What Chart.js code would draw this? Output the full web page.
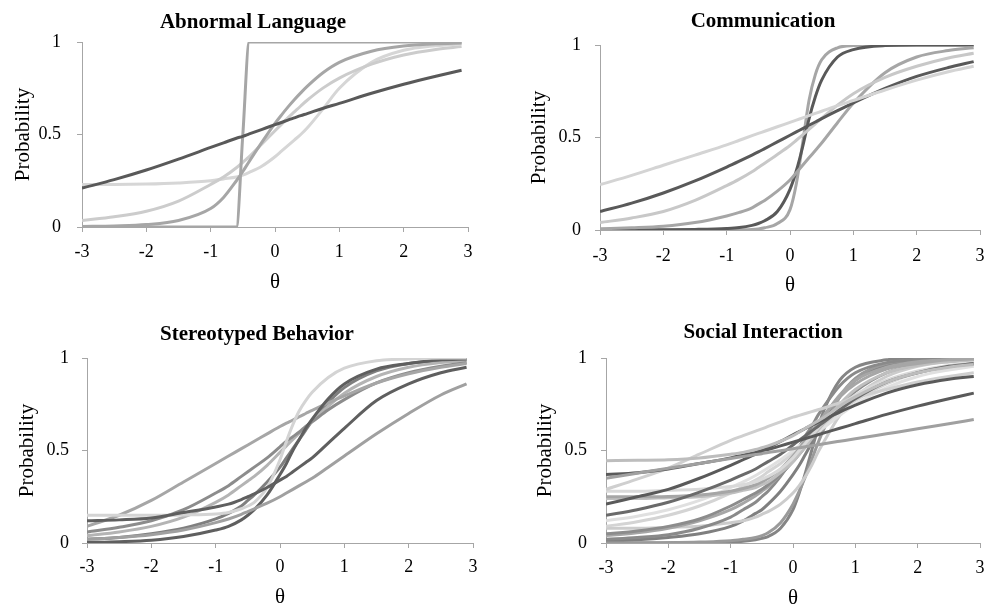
<!DOCTYPE html>
<html>
<head>
<meta charset="utf-8">
<script src="https://cdn.jsdelivr.net/npm/chart.js@4.4.1/dist/chart.umd.min.js"></script>
<style>
  body { margin: 0; background: #fff; width: 995px; height: 609px; position: relative; overflow: hidden; }
  canvas { position: absolute; }
</style>
</head>
<body>
<canvas id="abnormal" width="506" height="300" style="left:0;top:0"></canvas>
<canvas id="communication" width="464" height="300" style="left:531px;top:0"></canvas>
<canvas id="stereotyped" width="514" height="309" style="left:0;top:300px"></canvas>
<canvas id="social" width="464" height="309" style="left:531px;top:300px"></canvas>
<script>
// theta grid the curves were read at
const theta = [-3, -2.5, -2, -1.5, -1, -0.8, -0.6, -0.5, -0.4, -0.2, 0, 0.1, 0.2, 0.3, 0.4, 0.5, 0.75, 1, 1.5, 2, 2.5, 2.9];

const xTicks = [-3, -2, -1, 0, 1, 2, 3];
const xTickLabels = ['-3', '-2', '-1', '0', '1', '2', '3'];
const yTicks = [0, 0.5, 1];
const yTickLabels = ['0', '0.5', '1'];

// Abnormal Language
const abnormalItems = [
  [.21, .256, .308, .367, .43, .455, .48, .49, .503, .528, .553, .565, .578, .59, .602, .613, .642, .668, .723, .772, .815, .847],
  [0, 0, 0, 0, 0, 0, 0, .5, 1, 1, 1, 1, 1, 1, 1, 1, 1, 1, 1, 1, 1, 1],
  [.003, .006, .013, .035, .10, .16, .25, .30, .355, .46, .56, .605, .648, .688, .725, .76, .835, .89, .95, .978, .99, .995],
  [.035, .055, .085, .14, .23, .27, .32, .35, .38, .45, .52, .555, .59, .622, .654, .685, .752, .805, .88, .93, .96, .975],
  [.23, .23, .232, .238, .25, .26, .27, .28, .295, .33, .38, .41, .44, .47, .50, .535, .64, .75, .89, .955, .98, .99]
];
const abnormalColors = ['#595959', '#a6a6a6', '#a6a6a6', '#cccccc', '#d6d6d6'];

// Communication
const communicationItems = [
  [.245, .295, .35, .405, .46, .485, .51, .522, .534, .558, .582, .594, .606, .618, .63, .642, .672, .70, .757, .81, .855, .885],
  [.10, .145, .20, .265, .34, .372, .405, .422, .44, .476, .512, .53, .548, .566, .584, .602, .645, .687, .765, .83, .878, .91],
  [.04, .065, .10, .16, .24, .275, .315, .338, .361, .408, .457, .485, .514, .544, .574, .604, .675, .737, .825, .885, .93, .955],
  [.007, .012, .02, .04, .076, .095, .12, .14, .16, .21, .27, .31, .35, .39, .43, .47, .58, .685, .85, .935, .97, .985],
  [0, 0, .001, .003, .008, .013, .025, .035, .05, .10, .22, .32, .45, .60, .72, .81, .935, .975, .997, 1, 1, 1],
  [0, 0, 0, 0, 0, .001, .003, .006, .012, .035, .11, .25, .47, .70, .84, .92, .985, .997, 1, 1, 1, 1]
];
const communicationColors = ['#d4d4d4', '#595959', '#c8c8c8', '#a6a6a6', '#595959', '#a6a6a6'];

// Stereotyped Behavior
const stereotypedItems = [
  [.02, .03, .045, .07, .11, .13, .155, .17, .185, .215, .25, .27, .29, .31, .33, .35, .41, .47, .59, .70, .80, .86],
  [.12, .125, .135, .165, .195, .21, .235, .25, .265, .30, .34, .36, .385, .41, .435, .46, .54, .62, .77, .86, .92, .95],
  [.15, .15, .15, .152, .157, .165, .185, .20, .22, .30, .45, .55, .64, .715, .77, .815, .895, .945, .985, .995, 1, 1],
  [.003, .007, .015, .035, .07, .09, .125, .15, .18, .26, .37, .43, .50, .56, .62, .67, .78, .86, .94, .97, .99, .995],
  [.09, .15, .23, .33, .43, .47, .51, .53, .55, .59, .63, .648, .665, .683, .70, .717, .757, .795, .865, .915, .95, .97],
  [.06, .085, .12, .18, .27, .31, .36, .385, .41, .46, .52, .55, .575, .60, .63, .655, .72, .775, .865, .92, .955, .975],
  [.04, .06, .09, .14, .22, .26, .31, .335, .36, .42, .49, .525, .56, .594, .627, .66, .74, .81, .90, .95, .975, .985],
  [.02, .03, .05, .08, .13, .16, .20, .23, .26, .33, .41, .46, .51, .56, .61, .66, .76, .84, .93, .97, .985, .99]
];
const stereotypedColors = ['#a0a0a0', '#5f5f5f', '#d4d4d4', '#5f5f5f', '#a6a6a6', '#8c8c8c', '#b4b4b4', '#7f7f7f'];

// Social Interaction
const socialItems = [
  [.35, .377, .404, .43, .457, .467, .478, .483, .489, .499, .51, .515, .52, .526, .531, .537, .55, .563, .59, .617, .645, .667],
  [.445, .447, .45, .46, .48, .49, .505, .515, .525, .55, .58, .60, .62, .64, .66, .68, .74, .79, .87, .92, .95, .965],
  [.37, .38, .40, .43, .46, .475, .49, .50, .505, .525, .545, .555, .565, .575, .585, .595, .62, .645, .695, .74, .78, .81],
  [.21, .25, .29, .35, .42, .45, .48, .497, .514, .549, .585, .602, .619, .636, .652, .668, .708, .745, .81, .855, .885, .90],
  [.15, .18, .22, .275, .34, .37, .40, .42, .44, .48, .53, .555, .58, .605, .63, .655, .72, .78, .87, .92, .955, .97],
  [.29, .345, .405, .48, .555, .58, .605, .617, .63, .655, .68, .69, .70, .71, .72, .73, .758, .785, .83, .87, .90, .92],
  [.28, .28, .285, .29, .305, .315, .33, .345, .36, .40, .46, .50, .54, .58, .62, .66, .74, .80, .88, .93, .96, .975],
  [.25, .25, .252, .26, .28, .295, .315, .33, .35, .40, .47, .51, .56, .60, .645, .69, .79, .86, .94, .97, .99, .995],
  [.24, .24, .245, .25, .27, .285, .30, .315, .33, .38, .44, .48, .52, .565, .61, .65, .75, .83, .92, .96, .98, .99],
  [.12, .145, .18, .23, .30, .33, .365, .385, .405, .45, .50, .525, .55, .575, .60, .625, .69, .75, .84, .90, .935, .955],
  [.09, .115, .15, .20, .27, .305, .34, .36, .385, .43, .49, .52, .55, .58, .61, .64, .71, .77, .86, .92, .95, .965],
  [.05, .065, .09, .13, .20, .235, .27, .29, .315, .37, .44, .48, .52, .56, .60, .64, .74, .82, .92, .965, .985, .99],
  [.04, .055, .08, .12, .18, .215, .255, .28, .305, .37, .45, .50, .55, .60, .645, .69, .80, .88, .95, .98, .99, .997],
  [.02, .03, .045, .08, .14, .18, .22, .25, .28, .36, .46, .52, .58, .63, .69, .74, .85, .92, .975, .99, 1, 1],
  [.08, .08, .085, .09, .11, .12, .14, .155, .17, .21, .27, .31, .36, .42, .49, .55, .69, .79, .90, .955, .98, .99],
  [0, .001, .002, .005, .012, .02, .03, .04, .055, .11, .21, .28, .36, .45, .54, .62, .79, .89, .97, .99, 1, 1],
  [0, 0, .001, .002, .006, .01, .018, .025, .035, .08, .18, .27, .38, .50, .62, .72, .88, .95, .99, 1, 1, 1],
  [.01, .017, .03, .05, .09, .12, .16, .18, .21, .28, .37, .42, .48, .54, .60, .66, .79, .88, .96, .985, .995, 1]
];
const socialColors = ['#a0a0a0', '#bdbdbd', '#5a5a5a', '#5a5a5a', '#6a6a6a', '#cfcfcf', '#d9d9d9', '#a6a6a6', '#bfbfbf',
  '#e0e0e0', '#d4d4d4', '#8c8c8c', '#a6a6a6', '#8a8a8a', '#cccccc', '#9a9a9a', '#858585', '#7f7f7f'];

Chart.defaults.font.family = '"Liberation Serif", "Times New Roman", serif';
Chart.defaults.color = '#000';

const axisColor = '#a6a6a6';

function drawPanel(id, title, items, colors, p) {
  new Chart(document.getElementById(id), {
    type: 'line',
    data: {
      datasets: items.map((row, i) => ({
        data: row.map((v, j) => ({ x: theta[j], y: v })),
        borderColor: colors[i],
        xAxisID: 'x',
        yAxisID: 'y'
      }))
    },
    options: {
      responsive: false,
      animation: false,
      devicePixelRatio: 1,
      layout: { padding: 0 },
      elements: {
        point: { radius: 0 },
        line: { borderWidth: 3, cubicInterpolationMode: 'monotone', fill: false }
      },
      plugins: {
        legend: { display: false },
        tooltip: { enabled: false },
        title: {
          display: true,
          text: title,
          color: '#000',
          font: { size: 21, weight: 'bold', lineHeight: 1 },
          padding: { top: p.titleTop, bottom: p.titleBottom }
        }
      },
      scales: {
        x: {
          type: 'linear',
          position: 'bottom',
          min: -3, max: 3,
          afterBuildTicks: s => { s.ticks = xTicks.map(v => ({ value: v })); },
          afterFit: s => { s.height = p.xAxisHeight; },
          grid: { display: true, drawOnChartArea: false, drawTicks: true, tickLength: 5, color: axisColor },
          border: { display: true, color: axisColor },
          ticks: {
            padding: p.xTickPad,
            maxRotation: 0,
            font: { size: 18 },
            callback: v => xTickLabels[xTicks.indexOf(v)]
          },
          title: {
            display: true,
            text: 'θ',
            font: { size: 21, lineHeight: 1 },
            padding: { top: 0, bottom: p.xTitlePad }
          }
        },
        y: {
          type: 'linear',
          position: 'left',
          min: 0, max: 1,
          afterBuildTicks: s => { s.ticks = yTicks.map(v => ({ value: v })); },
          afterFit: s => { s.width = p.yAxisWidth; },
          grid: { display: true, drawOnChartArea: false, drawTicks: true, tickLength: 5, color: axisColor },
          border: { display: true, color: axisColor },
          ticks: {
            padding: p.yTickPad,
            font: { size: 18 },
            callback: v => yTickLabels[yTicks.indexOf(v)]
          },
          title: {
            display: true,
            text: 'Probability',
            font: { size: 21, lineHeight: 1 },
            padding: { top: p.yTitlePad, bottom: 0 }
          }
        },
        // empty right-hand band so the title stays centred on the whole panel
        pad: {
          type: 'linear',
          position: 'right',
          display: true,
          grid: { display: false },
          border: { display: false },
          ticks: { display: false },
          afterFit: s => { s.width = p.rightPad; }
        }
      }
    }
  });
}

drawPanel('abnormal', 'Abnormal Language', abnormalItems, abnormalColors,
  { titleTop: 12, titleBottom: 9, xAxisHeight: 73, yAxisWidth: 82, rightPad: 38, xTickPad: 9, yTickPad: 16, xTitlePad: 7.5, yTitlePad: 12.5 });
drawPanel('communication', 'Communication', communicationItems, communicationColors,
  { titleTop: 11, titleBottom: 13, xAxisHeight: 70, yAxisWidth: 69, rightPad: 15, xTickPad: 10.5, yTickPad: 14, xTitlePad: 4.5, yTitlePad: -2 });
drawPanel('stereotyped', 'Stereotyped Behavior', stereotypedItems, stereotypedColors,
  { titleTop: 24, titleBottom: 13, xAxisHeight: 66, yAxisWidth: 87, rightPad: 41, xTickPad: 8, yTickPad: 13, xTitlePad: 1, yTitlePad: 16.5 });
drawPanel('social', 'Social Interaction', socialItems, socialColors,
  { titleTop: 22.5, titleBottom: 14.5, xAxisHeight: 66, yAxisWidth: 75, rightPad: 15, xTickPad: 9, yTickPad: 14, xTitlePad: 0.5, yTitlePad: 3.5 });
</script>
</body>
</html>
